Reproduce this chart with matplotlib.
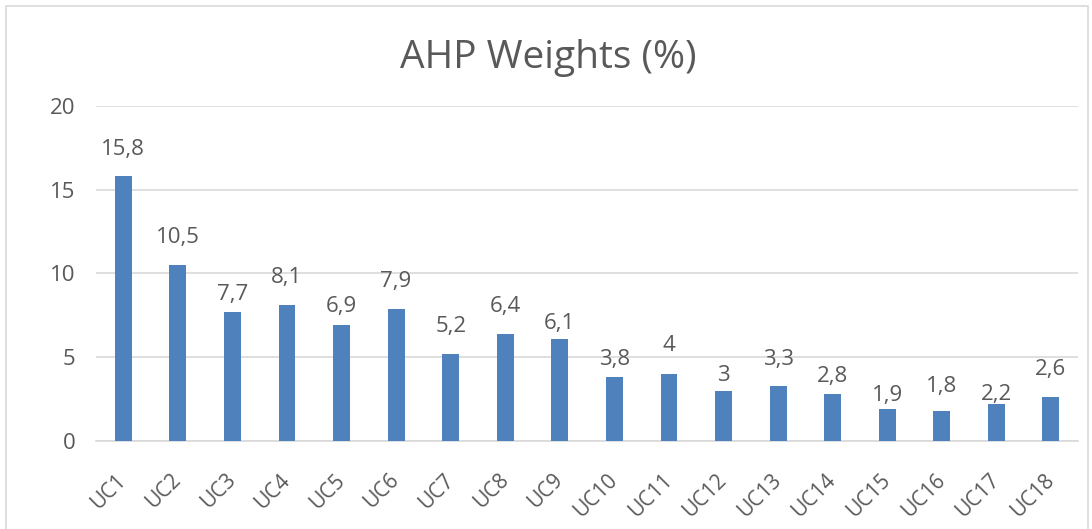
import matplotlib.pyplot as plt
from matplotlib.patches import Rectangle

categories = [f"UC{i}" for i in range(1, 19)]
weights = [15.8, 10.5, 7.7, 8.1, 6.9, 7.9, 5.2, 6.4, 6.1,
           3.8, 4.0, 3.0, 3.3, 2.8, 1.9, 1.8, 2.2, 2.6]

# gap (px) between bar top and label baseline, labels were hand-placed in the original
label_gap = [21, 22, 12, 22, 13, 22, 22, 22, 10, 12, 23, 10, 21, 12, 8, 19, 4, 22]

BAR = "#4F81BD"
TEXT = "#595959"
GRID = "#D9D9D9"

plt.rcParams["font.family"] = ["Open Sans", "DejaVu Sans"]

fig = plt.figure(figsize=(10.92, 5.29), dpi=100)
fig.patch.set_facecolor("white")
fig.patches.append(Rectangle((6 / 1092, -0.05), 1082 / 1092, 1.05 - 6 / 529,
                             transform=fig.transFigure, fill=False,
                             edgecolor=GRID, linewidth=1.2))

ax = fig.add_axes([0.0879, 0.1664, 0.8995, 0.6332])
x = range(len(categories))
ax.bar(x, weights, width=0.31, color=BAR, zorder=3)

for i, v in enumerate(weights):
    label = f"{v:g}".replace(".", ",")
    ax.annotate(label, (i, v), xytext=(0, label_gap[i] * 0.72),
                textcoords="offset points", ha="center", va="baseline",
                fontsize=16, color=TEXT, zorder=4)

ax.set_xlim(-0.5, len(categories) - 0.5)
ax.set_ylim(0, 20)
ax.set_yticks([0, 5, 10, 15, 20])
ax.set_xticks(list(x))
ax.set_xticklabels(categories, rotation=45, ha="right", va="center",
                   rotation_mode="anchor")
ax.tick_params(axis="both", length=0, colors=TEXT)
ax.tick_params(axis="y", pad=15, labelsize=16)
ax.tick_params(axis="x", pad=26, labelsize=15)
ax.yaxis.grid(True, color=GRID, linewidth=1.2, zorder=0)
for s in ["top", "right", "left"]:
    ax.spines[s].set_visible(False)
ax.spines["bottom"].set_color(GRID)
ax.spines["bottom"].set_linewidth(1.2)

fig.text(0.502, 0.89, "AHP Weights (%)", ha="center", va="center",
         fontsize=28, color=TEXT)

fig.savefig("out.png", dpi=100, facecolor="white")
